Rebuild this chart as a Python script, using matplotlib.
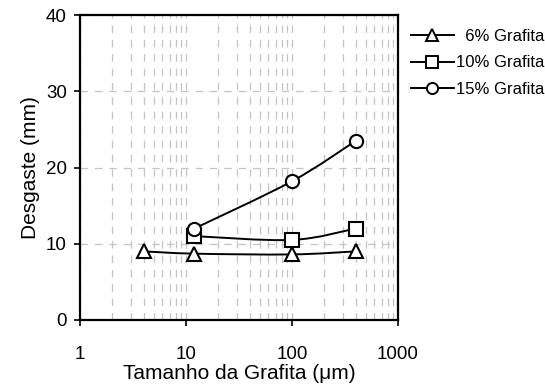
import numpy as np
import matplotlib
matplotlib.use("Agg")
import matplotlib.pyplot as plt
from matplotlib.path import Path
from matplotlib.patches import PathPatch
from matplotlib.lines import Line2D

plt.rcParams['font.family'] = ['Liberation Sans', 'DejaVu Sans']

# Particle size (µm) and wear (mm) per graphite content
size_6 = [4, 12, 100, 400]
wear_6 = [9.0, 8.7, 8.6, 9.0]
size_10 = [12, 100, 400]
wear_10 = [11.0, 10.5, 12.0]
size_15 = [12, 100, 400]
wear_15 = [12.0, 18.2, 23.5]

labels = ["  6% Grafita", "10% Grafita", "15% Grafita"]
markers = ["^", "s", "o"]
x_ticks = [1, 10, 100, 1000]
y_ticks = [0, 10, 20, 30, 40]


def smooth_path(xs, ys, ax):
    """Catmull-Rom style Bezier path through the points, built in display space."""
    pts = ax.transData.transform(np.column_stack([xs, ys]))
    n = len(pts)
    verts = [pts[0]]
    codes = [Path.MOVETO]
    for i in range(n - 1):
        p0 = pts[i - 1] if i > 0 else pts[i]
        p1 = pts[i]
        p2 = pts[i + 1]
        p3 = pts[i + 2] if i + 2 < n else pts[i + 1]
        c1 = p1 + (p2 - p0) / 6.0
        c2 = p2 - (p3 - p1) / 6.0
        verts += [c1, c2, p2]
        codes += [Path.CURVE4] * 3
    return Path(np.array(verts), codes)


fig = plt.figure(figsize=(5.45, 3.85), dpi=100)
ax = fig.add_axes([80 / 545, 1 - 320 / 385, 318 / 545, 305 / 385])
ax.set_xscale("log")
ax.set_xlim(1, 1000)
ax.set_ylim(0, 40)
ax.set_xticks(x_ticks)
ax.set_xticklabels([str(v) for v in x_ticks])
ax.set_yticks(y_ticks)
ax.xaxis.set_minor_formatter(matplotlib.ticker.NullFormatter())
ax.tick_params(axis="x", which="minor", length=0)
ax.tick_params(axis="both", which="major", direction="out", length=4.5, width=1.2,
               labelsize=13.5)
ax.tick_params(axis="x", which="major", pad=14)
ax.tick_params(axis="y", which="major", pad=5)
for s in ax.spines.values():
    s.set_linewidth(1.6)

ax.grid(True, which="both", axis="x", color="#c4c4c4", linestyle=(0, (6, 5.5)), linewidth=0.9)
ax.grid(True, which="major", axis="y", color="#c4c4c4", linestyle=(0, (6, 5.5)), linewidth=0.9)
ax.set_axisbelow(True)

ax.set_xlabel("Tamanho da Grafita (\u03bcm)", fontsize=15, labelpad=1)
ax.set_ylabel("Desgaste (mm)", fontsize=15, labelpad=4)

fig.canvas.draw()
series = [(size_6, wear_6), (size_10, wear_10), (size_15, wear_15)]
handles = []
for (xs, ys), lab, mk in zip(series, labels, markers):
    patch = PathPatch(smooth_path(xs, ys, ax), facecolor="none", edgecolor="black",
                      linewidth=1.4, transform=None, zorder=3)
    ax.add_artist(patch)
    ax.plot(xs, ys, linestyle="none", marker=mk, markersize=9.5 if mk != "^" else 10.5,
            markerfacecolor="white", markeredgecolor="black", markeredgewidth=1.5, zorder=4)
    handles.append(Line2D([], [], color="black", linewidth=1.4, marker=mk, markersize=8,
                          markerfacecolor="white", markeredgecolor="black",
                          markeredgewidth=1.4))

fig.legend(handles, labels, loc="upper left", bbox_to_anchor=(404 / 545, 1 - 22 / 385),
           frameon=False, fontsize=12, handlelength=2.6, handletextpad=0.15,
           labelspacing=0.7, borderaxespad=0)

fig.savefig("out.png", dpi=100)
